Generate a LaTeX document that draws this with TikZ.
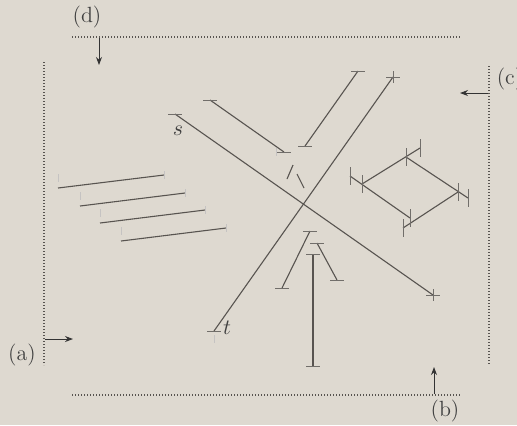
\documentclass[tikz,border=0pt]{standalone}
\usepackage{amssymb,amsmath}
\usetikzlibrary{arrows.meta}
\definecolor{paper}{RGB}{222,217,208}
\definecolor{ink}{RGB}{88,84,80}

\begin{document}
\begin{tikzpicture}[x=0.5pt,y=-0.5pt,
        seg/.style={draw=ink,line width=0.55pt},
        sweep/.style={draw=ink,line width=0.6pt,dash pattern=on 0.6pt off 0.9pt},
        dir/.style={draw=black!80,line width=0.5pt,-{Stealth[length=4pt,width=3pt]}},
        lbl/.style={text=black!75,font=\fontsize{11}{13}\selectfont,inner sep=0pt},
        htick/.pic={\draw[ink!85,line width=0.45pt] (-7,0) -- (7,0);},
        vtick/.pic={\draw[ink!85,line width=0.45pt] (0,-9) -- (0,9);},
        ftick/.pic={\draw[ink!35,line width=0.4pt] (0,-4) -- (0,4);}]

    % Page
    \fill[paper] (0,0) rectangle (517,425);
    \useasboundingbox (0,0) rectangle (517,425);

    % Sweep lines
    \coordinate (top0) at (72,37);   \coordinate (top1) at (460,37);
    \coordinate (bot0) at (72,395);  \coordinate (bot1) at (460,395);
    \coordinate (lft0) at (44,62);   \coordinate (lft1) at (44,365);
    \coordinate (rgt0) at (489,66);  \coordinate (rgt1) at (489,365);
    \draw[sweep] (top0) -- (top1);
    \draw[sweep] (bot0) -- (bot1);
    \draw[sweep] (lft0) -- (lft1);
    \draw[sweep] (rgt0) -- (rgt1);

    % Directions
    \node[lbl] (d) at (87,17) {(d)};
    \node[lbl] (c) at (510,79) {(c)};
    \node[lbl] (a) at (22,355) {(a)};
    \node[lbl] (b) at (445,411) {(b)};
    \coordinate (d0) at (99,38);  \coordinate (d1) at (99,65);
    \coordinate (c0) at (488,93); \coordinate (c1) at (460,93);
    \coordinate (a0) at (45,339); \coordinate (a1) at (73,339);
    \coordinate (b0) at (434,394); \coordinate (b1) at (434,367);
    \draw[dir] (d0) -- (d1);
    \draw[dir] (c0) -- (c1);
    \draw[dir] (a0) -- (a1);
    \draw[dir] (b0) -- (b1);

    % Long segments s and t
    \coordinate (s1) at (175,114); \coordinate (s2) at (433,295);
    \coordinate (t1) at (214,331); \coordinate (t2) at (393,77);
    \draw[seg] (s1) -- (s2);
    \draw[seg] (t1) -- (t2);
    \pic at (s1) {htick};
    \pic at (t1) {htick};
    \pic at ([yshift=-4]t1) {ftick};
    \pic at (s2) {htick};
    \pic[yscale=0.65] at (s2) {vtick};
    \pic at (t2) {htick};
    \pic[yscale=0.65] at (t2) {vtick};
    \node[lbl] (slab) at (178,131) {$s$};
    \node[lbl] (tlab) at (227,328) {$t$};

    % Short segments near the crossing
    \coordinate (u1) at (210,100); \coordinate (u2) at (284,152);
    \coordinate (v1) at (305,146); \coordinate (v2) at (358,71);
    \draw[seg] (u1) -- (u2);
    \draw[seg] (v1) -- (v2);
    \pic at (u1) {htick};
    \pic at (u2) {htick};
    \pic at ([xshift=-4]u2) {ftick};
    \pic at (v1) {htick};
    \pic at (v2) {htick};
    \coordinate (m1) at (293,165); \coordinate (m2) at (287,179);
    \coordinate (n1) at (297,174); \coordinate (n2) at (304,188);
    \draw[seg] (m1) -- (m2);
    \draw[seg] (n1) -- (n2);

    % Segments below the crossing
    \coordinate (w1) at (310,231); \coordinate (w2) at (282,288);
    \coordinate (x1) at (317,243); \coordinate (x2) at (337,280);
    \coordinate (z1) at (313,254); \coordinate (z2) at (313,366);
    \draw[seg] (w1) -- (w2);
    \draw[seg] (x1) -- (x2);
    \draw[seg] (z1) -- (z2);
    \foreach \p in {w1,w2,x1,x2,z1,z2}
        \pic at (\p) {htick};

    % Parallel segments
    \coordinate (p1a) at (58,188);  \coordinate (p1b) at (164,175);
    \coordinate (p2a) at (80,206);  \coordinate (p2b) at (185,193);
    \coordinate (p3a) at (100,223); \coordinate (p3b) at (205,210);
    \coordinate (p4a) at (121,241); \coordinate (p4b) at (226,228);
    \foreach \i in {1,2,3,4} {
        \draw[seg] (p\i a) -- (p\i b);
        \pic at ([yshift=5]p\i a) {ftick};
        \pic at (p\i b) {ftick};
    }

    % Parallelogram
    \coordinate (ga) at (362,184); \coordinate (gb) at (420,148);
    \coordinate (ha) at (406,157); \coordinate (hb) at (468,198);
    \coordinate (ka) at (350,176); \coordinate (kb) at (410,218);
    \coordinate (la) at (403,228); \coordinate (lb) at (458,192);
    \draw[seg] (ga) -- (gb);
    \draw[seg] (ha) -- (hb);
    \draw[seg] (ka) -- (kb);
    \draw[seg] (la) -- (lb);
    \foreach \p in {ga,gb,ha,hb,ka,kb,la,lb}
        \pic at (\p) {vtick};
\end{tikzpicture}
\end{document}
